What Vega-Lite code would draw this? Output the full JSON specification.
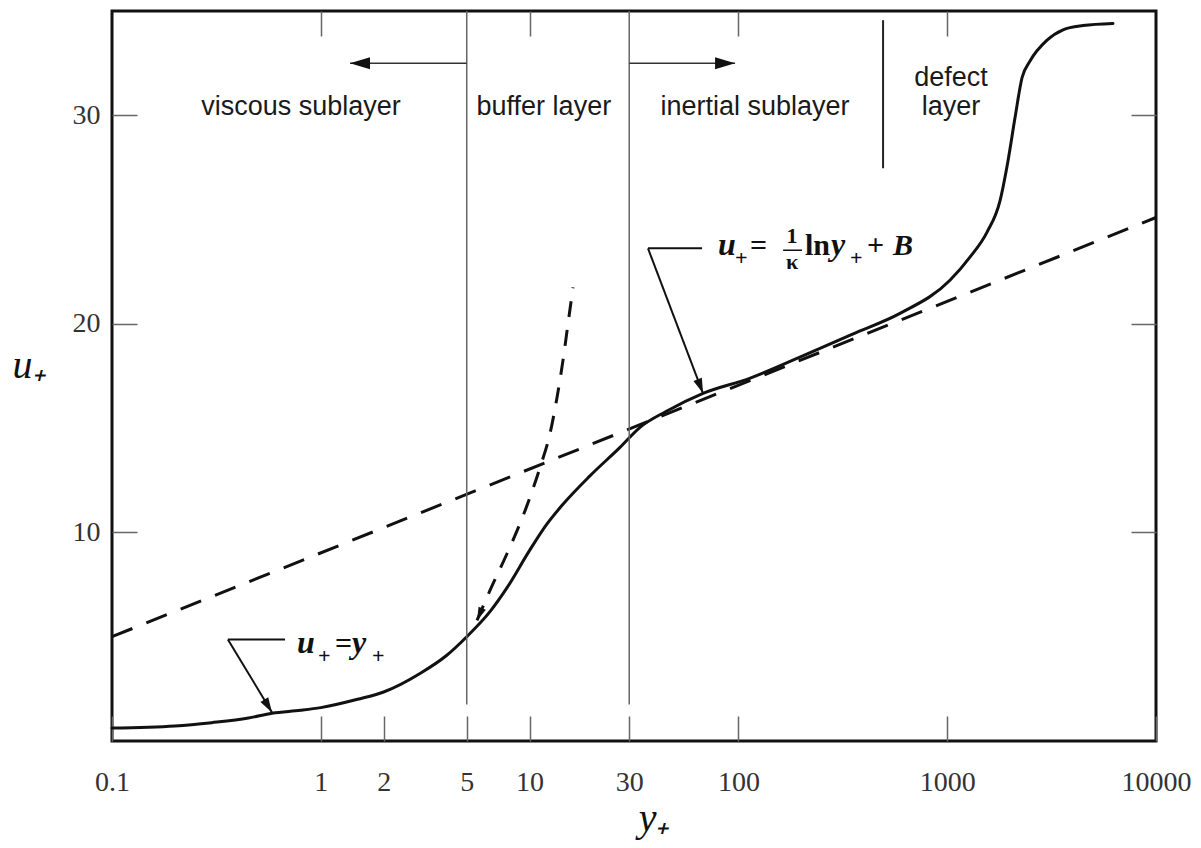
{
  "$schema": "https://vega.github.io/schema/vega-lite/v6.json",
  "width": 1044,
  "height": 730,
  "autosize": {"type": "none"},
  "padding": {"left": 112, "top": 11, "right": 45, "bottom": 107},
  "background": "white",
  "config": {
    "view": {"stroke": "#111", "strokeWidth": 3},
    "axis": {
      "grid": false,
      "domain": false,
      "labelFont": "Liberation Serif",
      "labelFontSize": 28,
      "labelColor": "#333",
      "tickColor": "#666",
      "tickWidth": 1.5,
      "tickSize": -25,
      "titleFont": "Liberation Serif",
      "titleFontStyle": "italic",
      "titleFontWeight": "normal",
      "titleFontSize": 40,
      "titleColor": "#111"
    }
  },
  "datasets": {
    "curve": [
      {"x": 0.1, "u": 0.62}, {"x": 0.2, "u": 0.72}, {"x": 0.3, "u": 0.88}, {"x": 0.45, "u": 1.1},
      {"x": 0.584, "u": 1.33}, {"x": 0.8, "u": 1.47}, {"x": 1.0, "u": 1.6}, {"x": 1.5, "u": 2.0},
      {"x": 2.0, "u": 2.35}, {"x": 3.0, "u": 3.25}, {"x": 4.0, "u": 4.1}, {"x": 5.0, "u": 5.0},
      {"x": 6.46, "u": 6.2}, {"x": 7.8, "u": 7.35}, {"x": 10.0, "u": 9.14}, {"x": 12.0, "u": 10.35},
      {"x": 14.45, "u": 11.35}, {"x": 19.4, "u": 12.7}, {"x": 27.1, "u": 14.08}, {"x": 33.8, "u": 15.04},
      {"x": 45, "u": 15.8}, {"x": 67.7, "u": 16.67}, {"x": 114, "u": 17.4}, {"x": 197, "u": 18.4},
      {"x": 350, "u": 19.5}, {"x": 594, "u": 20.5}, {"x": 1031, "u": 22.09}, {"x": 1285, "u": 23.2},
      {"x": 1552, "u": 24.4}, {"x": 1790, "u": 25.9}, {"x": 1954, "u": 27.8}, {"x": 2114, "u": 29.9},
      {"x": 2282, "u": 31.8}, {"x": 2493, "u": 32.6}, {"x": 3007, "u": 33.6}, {"x": 3588, "u": 34.1},
      {"x": 4467, "u": 34.3}, {"x": 6222, "u": 34.4}
    ],
    "loglaw": [{"x": 0.1, "u": 5.0}, {"x": 10000, "u": 25.1}],
    "linear": [
      {"x": 5.6, "u": 5.78}, {"x": 6.46, "u": 7.22}, {"x": 7.8, "u": 8.99}, {"x": 9.0, "u": 10.43},
      {"x": 10.04, "u": 11.68}, {"x": 11.22, "u": 13.12}, {"x": 12.53, "u": 14.75}, {"x": 13.53, "u": 16.47},
      {"x": 14.45, "u": 18.25}, {"x": 15.28, "u": 20.02}, {"x": 16.14, "u": 21.75}
    ],
    "bounds": [{"x": 5, "u": 35, "u2": 1.75}, {"x": 30, "u": 35, "u2": 1.75}],
    "defectLine": [{"x": 493, "u": 34.56, "u2": 27.46}],
    "hArrows": [{"x": 5, "x2": 1.38, "u": 32.5}, {"x": 30, "x2": 96.4, "u": 32.5}],
    "pointers": [
      {"x": 0.674, "u": 4.87, "x2": 0.359, "u2": 4.87},
      {"x": 0.359, "u": 4.87, "x2": 0.584, "u2": 1.37},
      {"x": 67.0, "u": 23.62, "x2": 36.9, "u2": 23.62},
      {"x": 36.9, "u": 23.62, "x2": 67.7, "u2": 16.67}
    ],
    "heads": [
      {"name": "left", "x": 1.38, "u": 32.5},
      {"name": "right", "x": 96.4, "u": 32.5},
      {"name": "p1", "x": 0.584, "u": 1.37},
      {"name": "p2", "x": 67.7, "u": 16.67},
      {"name": "lin", "x": 5.6, "u": 5.78}
    ],
    "regionLabels": [
      {"x": 0.804, "u": 30.0, "text": "viscous sublayer"},
      {"x": 11.7, "u": 30.0, "text": "buffer layer"},
      {"x": 120, "u": 30.0, "text": "inertial sublayer"},
      {"x": 1042, "u": 31.4, "text": "defect"},
      {"x": 1042, "u": 30.0, "text": "layer"}
    ],
    "mathItalic": [
      {"x": 0.769, "u": 4.2, "text": "u"},
      {"x": 1.411, "u": 4.2, "text": "y"},
      {"x": 79.8, "u": 23.29, "text": "u"},
      {"x": 277.6, "u": 23.29, "text": "y"}
    ],
    "mathRoman": [
      {"x": 1.17, "u": 4.2, "text": "="},
      {"x": 113.6, "u": 23.29, "text": "="},
      {"x": 208.5, "u": 23.29, "text": "ln"},
      {"x": 413, "u": 23.29, "text": "+"}
    ],
    "mathSub": [
      {"x": 0.97, "u": 4.08, "text": "+"},
      {"x": 1.759, "u": 4.08, "text": "+"},
      {"x": 96.3, "u": 23.15, "text": "+"},
      {"x": 342.3, "u": 23.15, "text": "+"}
    ],
    "mathBold": [{"x": 550, "u": 23.29, "text": "B"}],
    "frac": [
      {"x": 180.7, "u": 23.9, "text": "1"},
      {"x": 180.7, "u": 22.62, "text": "κ"}
    ],
    "fracBar": [{"x": 163.7, "x2": 201.7, "u": 23.53}]
  },
  "encoding": {
    "x": {"field": "x", "type": "quantitative", "scale": {"type": "log", "domain": [0.1, 10000], "nice": false}, "axis": null},
    "y": {"field": "u", "type": "quantitative", "scale": {"domain": [0, 35], "nice": false, "zero": false}, "axis": null}
  },
  "layer": [
    {
      "data": {"name": "curve"},
      "mark": {"type": "line", "color": "#111", "strokeWidth": 3, "interpolate": "monotone", "strokeCap": "round"},
      "encoding": {
        "x": {"field": "x", "type": "quantitative", "scale": {"type": "log", "domain": [0.1, 10000], "nice": false},
          "axis": {"orient": "bottom", "values": [0.1, 1, 2, 5, 10, 30, 100, 1000, 10000], "format": "~g", "labelFlush": false, "labelOverlap": false, "labelPadding": 52, "labelBaseline": "top",
            "title": "y₊", "titleX": 542, "titleY": 89, "titleAlign": "center", "titleBaseline": "alphabetic"}},
        "y": {"field": "u", "type": "quantitative", "scale": {"domain": [0, 35], "nice": false, "zero": false},
          "axis": {"orient": "left", "values": [10, 20, 30], "labelPadding": 37, "labelOverlap": false, "labelBaseline": "middle",
            "title": "u₊", "titleAngle": 0, "titleX": -100, "titleY": 366, "titleAlign": "left", "titleBaseline": "alphabetic"}}
      }
    },
    {
      "data": {"name": "loglaw"},
      "mark": {"type": "line", "color": "#111", "strokeWidth": 3, "strokeDash": [22, 15]},
      "encoding": {
        "x": {"field": "x", "type": "quantitative", "scale": {"type": "log", "domain": [0.1, 10000], "nice": false},
          "axis": {"orient": "top", "values": [1, 10, 100, 1000], "labels": false, "title": null}},
        "y": {"field": "u", "type": "quantitative", "scale": {"domain": [0, 35], "nice": false, "zero": false},
          "axis": {"orient": "right", "values": [10, 20, 30], "labels": false, "title": null}}
      }
    },
    {
      "data": {"name": "linear"},
      "mark": {"type": "line", "color": "#111", "strokeWidth": 3, "strokeDash": [16, 13], "interpolate": "monotone"}
    },
    {
      "data": {"name": "bounds"},
      "mark": {"type": "rule", "color": "#666", "strokeWidth": 1.5},
      "encoding": {"y2": {"field": "u2"}}
    },
    {
      "data": {"name": "defectLine"},
      "mark": {"type": "rule", "color": "#222", "strokeWidth": 2},
      "encoding": {"y2": {"field": "u2"}}
    },
    {
      "data": {"name": "hArrows"},
      "mark": {"type": "rule", "color": "#333", "strokeWidth": 1.5},
      "encoding": {"x2": {"field": "x2"}}
    },
    {
      "data": {"name": "pointers"},
      "mark": {"type": "rule", "color": "#111", "strokeWidth": 2},
      "encoding": {"x2": {"field": "x2"}, "y2": {"field": "u2"}}
    },
    {
      "data": {"name": "heads"},
      "transform": [{"filter": "datum.name === 'left'"}],
      "mark": {"type": "point", "shape": "M0,0L-1,-0.3L-1,0.3Z", "filled": true, "color": "#111", "size": 1600, "angle": 180, "opacity": 1}
    },
    {
      "data": {"name": "heads"},
      "transform": [{"filter": "datum.name === 'right'"}],
      "mark": {"type": "point", "shape": "M0,0L-1,-0.3L-1,0.3Z", "filled": true, "color": "#111", "size": 1600, "angle": 0, "opacity": 1}
    },
    {
      "data": {"name": "heads"},
      "transform": [{"filter": "datum.name === 'p1'"}],
      "mark": {"type": "point", "shape": "M0,0L-1,-0.3L-1,0.3Z", "filled": true, "color": "#111", "size": 900, "angle": 59, "opacity": 1}
    },
    {
      "data": {"name": "heads"},
      "transform": [{"filter": "datum.name === 'p2'"}],
      "mark": {"type": "point", "shape": "M0,0L-1,-0.3L-1,0.3Z", "filled": true, "color": "#111", "size": 900, "angle": 69, "opacity": 1}
    },
    {
      "data": {"name": "heads"},
      "transform": [{"filter": "datum.name === 'lin'"}],
      "mark": {"type": "point", "shape": "M0,0L-1,-0.3L-1,0.3Z", "filled": true, "color": "#111", "size": 700, "angle": 113, "opacity": 1}
    },
    {
      "data": {"name": "regionLabels"},
      "mark": {"type": "text", "font": "Liberation Sans", "fontSize": 27, "color": "#1a1a1a", "align": "center", "baseline": "alphabetic"},
      "encoding": {"text": {"field": "text"}}
    },
    {
      "data": {"name": "mathItalic"},
      "mark": {"type": "text", "font": "Liberation Serif", "fontSize": 32, "fontStyle": "italic", "fontWeight": "bold", "color": "#111", "align": "left", "baseline": "alphabetic"},
      "encoding": {"text": {"field": "text"}}
    },
    {
      "data": {"name": "mathRoman"},
      "mark": {"type": "text", "font": "Liberation Serif", "fontSize": 30, "fontWeight": "bold", "color": "#111", "align": "left", "baseline": "alphabetic"},
      "encoding": {"text": {"field": "text"}}
    },
    {
      "data": {"name": "mathSub"},
      "mark": {"type": "text", "font": "Liberation Serif", "fontSize": 22, "fontWeight": "bold", "color": "#111", "align": "left", "baseline": "middle"},
      "encoding": {"text": {"field": "text"}}
    },
    {
      "data": {"name": "mathBold"},
      "mark": {"type": "text", "font": "Liberation Serif", "fontSize": 30, "fontStyle": "italic", "fontWeight": "bold", "color": "#111", "align": "left", "baseline": "alphabetic"},
      "encoding": {"text": {"field": "text"}}
    },
    {
      "data": {"name": "frac"},
      "mark": {"type": "text", "font": "Liberation Serif", "fontSize": 22, "fontWeight": "bold", "color": "#111", "align": "center", "baseline": "alphabetic"},
      "encoding": {"text": {"field": "text"}}
    },
    {
      "data": {"name": "fracBar"},
      "mark": {"type": "rule", "color": "#111", "strokeWidth": 1.5},
      "encoding": {"x2": {"field": "x2"}}
    }
  ],
  "resolve": {"axis": {"x": "independent", "y": "independent"}}
}
